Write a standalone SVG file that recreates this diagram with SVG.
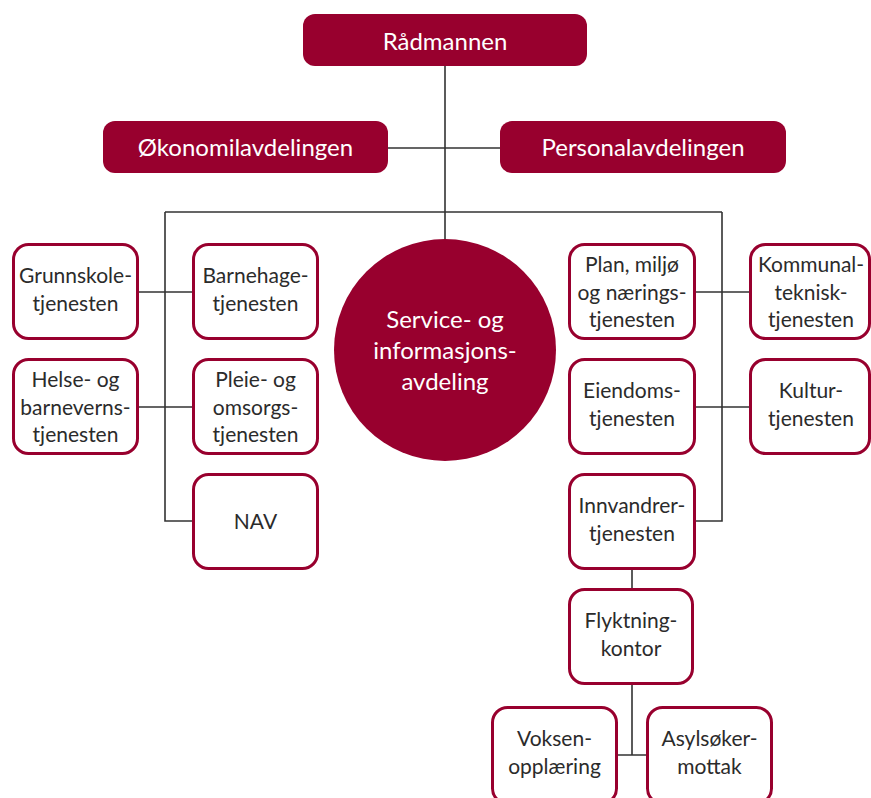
<svg xmlns="http://www.w3.org/2000/svg" width="871" height="798" viewBox="0 0 871 798">
<style>
.dark{fill:#98002E;}
.box{fill:#fff;stroke:#98002E;stroke-width:3;}
.t{font-family:Lato,"Open Sans","Noto Sans",sans-serif;font-size:21px;fill:#2b2b2b;text-anchor:middle;}
.tw{font-family:Lato,"Open Sans","Noto Sans",sans-serif;font-size:24px;fill:#fff;text-anchor:middle;}
.c{stroke:#333;stroke-width:1.6;fill:none;}
</style>
<rect width="871" height="798" fill="#fff"/>
<g id="connectors">
<path class="c" d="M445 66V240M388 148H500M165 212H722M165 212V521H193M722 212V521H695M137 292H193M137 407H193M695 292H750M695 407H750M632 569V589M632 684V755M617 755H647"/>
</g>
<g id="radmannen"><rect class="dark" x="303" y="14" width="284" height="52" rx="12"/><text class="tw" x="445" y="50">Rådmannen</text></g>
<g id="okonomi"><rect class="dark" x="103" y="121" width="285" height="52" rx="12"/><text class="tw" x="245.5" y="156">Økonomilavdelingen</text></g>
<g id="personal"><rect class="dark" x="500" y="121" width="286" height="52" rx="12"/><text class="tw" x="643" y="156">Personalavdelingen</text></g>
<g id="service"><circle class="dark" cx="445" cy="350" r="111"/><text class="tw" x="445" y="328">Service- og</text><text class="tw" x="445" y="359">informasjons-</text><text class="tw" x="445" y="390">avdeling</text></g>
<g id="grunnskole"><rect class="box" x="13.5" y="244.5" width="124" height="94" rx="15"/><text class="t" x="75.5" y="283">Grunnskole-</text><text class="t" x="75.5" y="311">tjenesten</text></g>
<g id="barnehage"><rect class="box" x="193.5" y="244.5" width="124" height="94" rx="15"/><text class="t" x="255.5" y="283">Barnehage-</text><text class="t" x="255.5" y="311">tjenesten</text></g>
<g id="helse"><rect class="box" x="13.5" y="359.5" width="124" height="94" rx="15"/><text class="t" x="75.5" y="387">Helse- og</text><text class="t" x="75.5" y="414.5">barneverns-</text><text class="t" x="75.5" y="442">tjenesten</text></g>
<g id="pleie"><rect class="box" x="193.5" y="359.5" width="124" height="94" rx="15"/><text class="t" x="255.5" y="387">Pleie- og</text><text class="t" x="255.5" y="414.5">omsorgs-</text><text class="t" x="255.5" y="442">tjenesten</text></g>
<g id="nav"><rect class="box" x="193.5" y="474.5" width="124" height="94" rx="15"/><text class="t" x="255.5" y="529">NAV</text></g>
<g id="plan"><rect class="box" x="569.5" y="244.5" width="125" height="94" rx="15"/><text class="t" x="632" y="272">Plan, miljø</text><text class="t" x="632" y="299.5">og nærings-</text><text class="t" x="632" y="327">tjenesten</text></g>
<g id="kommunal"><rect class="box" x="750.5" y="244.5" width="119" height="94" rx="15"/><text class="t" x="811" y="272">Kommunal-</text><text class="t" x="811" y="299.5">teknisk-</text><text class="t" x="811" y="327">tjenesten</text></g>
<g id="eiendom"><rect class="box" x="569.5" y="359.5" width="125" height="94" rx="15"/><text class="t" x="632" y="398">Eiendoms-</text><text class="t" x="632" y="426">tjenesten</text></g>
<g id="kultur"><rect class="box" x="750.5" y="359.5" width="119" height="94" rx="15"/><text class="t" x="811" y="398">Kultur-</text><text class="t" x="811" y="426">tjenesten</text></g>
<g id="innvandrer"><rect class="box" x="569.5" y="474.5" width="125" height="94" rx="15"/><text class="t" x="632" y="513">Innvandrer-</text><text class="t" x="632" y="541">tjenesten</text></g>
<g id="flyktning"><rect class="box" x="569.5" y="589.5" width="123" height="94" rx="15"/><text class="t" x="631" y="628">Flyktning-</text><text class="t" x="631" y="656">kontor</text></g>
<g id="voksen"><rect class="box" x="492.5" y="707.5" width="124" height="96" rx="15"/><text class="t" x="554.5" y="746">Voksen-</text><text class="t" x="554.5" y="774">opplæring</text></g>
<g id="asylsoker"><rect class="box" x="647.5" y="707.5" width="124" height="96" rx="15"/><text class="t" x="709.5" y="746">Asylsøker-</text><text class="t" x="709.5" y="774">mottak</text></g>
</svg>
